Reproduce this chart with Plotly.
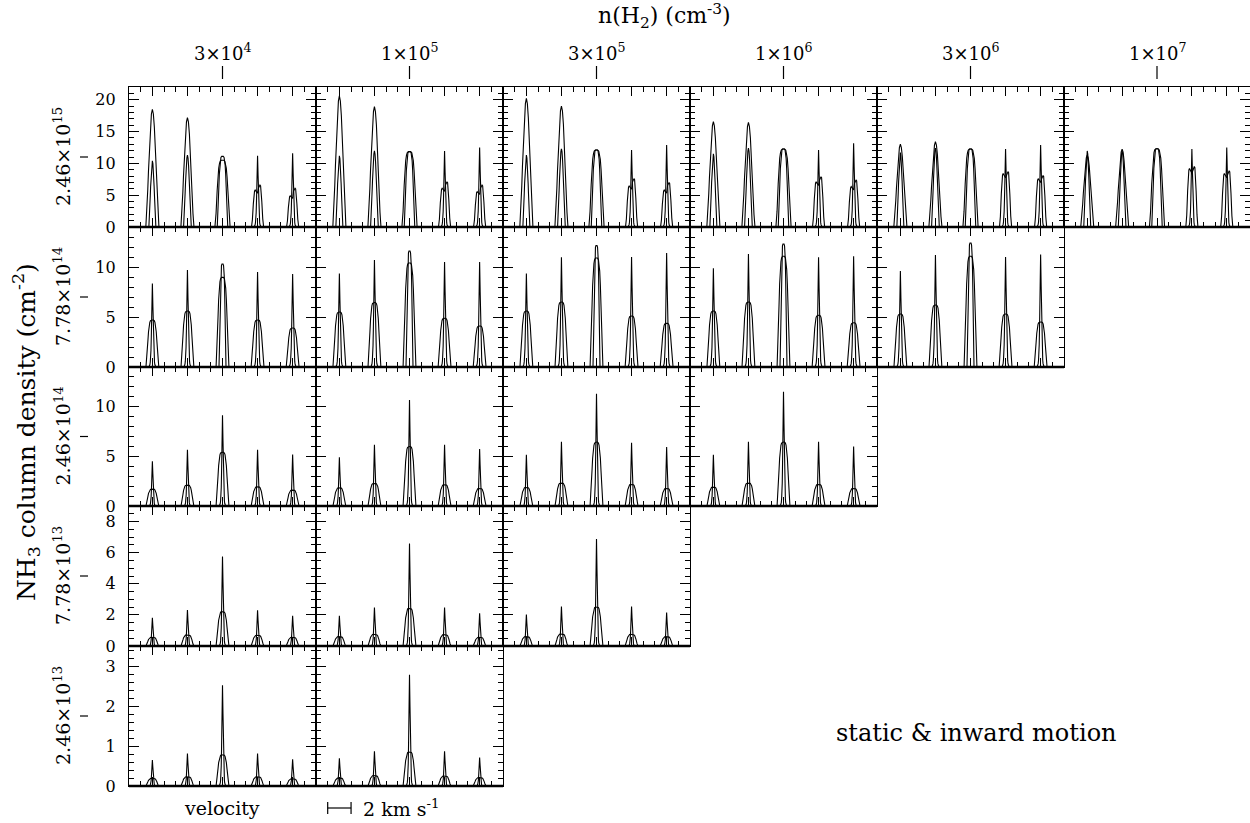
import plotly.graph_objects as go

# ---------------- data ----------------
COL_LABELS = ["3×10<sup>4</sup>", "1×10<sup>5</sup>", "3×10<sup>5</sup>",
              "1×10<sup>6</sup>", "3×10<sup>6</sup>", "1×10<sup>7</sup>"]
ROW_LABELS = ["2.46×10<sup>15</sup>", "7.78×10<sup>14</sup>", "2.46×10<sup>14</sup>",
              "7.78×10<sup>13</sup>", "2.46×10<sup>13</sup>"]
PANELS_PER_ROW = [6, 5, 4, 3, 2]
ROW_YMAX = [22, 14, 14, 9, 3.5]
ROW_DTICK = [5, 5, 5, 2, 1]
ROW_MINOR = [1, 1, 1, 0.5, 0.2]

COMP_V = [-6, -3, 0, 3, 6]          # hyperfine component positions (km/s)

# normalized line-shape templates
U = [-1, -0.85, -0.7, -0.6, -0.5, -0.4, -0.3, -0.15, 0, 0.15, 0.3, 0.4, 0.5, 0.6, 0.7, 0.85, 1]
T_PEAK = [0, 0.01, 0.03, 0.06, 0.11, 0.2, 0.37, 0.72, 1, 0.72, 0.37, 0.2, 0.11, 0.06, 0.03, 0.01, 0]
T_DOME = [0, 0.12, 0.32, 0.47, 0.61, 0.74, 0.85, 0.96, 1, 0.96, 0.85, 0.74, 0.61, 0.47, 0.32, 0.12, 0]
T_FLAT = [0, 0.2, 0.55, 0.75, 0.88, 0.95, 0.985, 1, 1, 1, 0.985, 0.95, 0.88, 0.75, 0.55, 0.2, 0]
T_DOUBLE = [0, 0.2, 0.62, 0.86, 0.97, 1, 0.98, 0.94, 0.92, 0.93, 0.97, 1, 0.98, 0.85, 0.6, 0.2, 0]

# row 0 (2.46e15): outer / inner curves, left shoulder of the double-peaked satellites
R0_OUTER = [[18.5, 17.2, 10.5, 6.6, 6.1],
            [20.6, 18.9, 11.85, 7.1, 6.6],
            [20.2, 19.0, 12.1, 7.6, 7.0],
            [16.55, 16.45, 12.25, 7.9, 7.4],
            [13.0, 13.4, 12.25, 8.7, 8.1],
            [11.3, 12.25, 12.3, 9.5, 8.85]]
R0_LEFT = [[None, None, None, 5.8, 4.9],
           [None, None, None, 6.1, 5.55],
           [None, None, None, 6.45, 5.8],
           [None, None, None, 7.1, 6.35],
           [None, None, None, 8.4, 7.6],
           [None, None, None, 9.2, 8.4]]
R0_INNER = [[10.4, 11.3, 11.1, 11.2, 11.6],
            [11.2, 11.95, 11.85, 11.95, 12.5],
            [11.3, 12.3, 12.1, 12.1, 12.9],
            [11.5, 12.4, 12.25, 12.1, 13.15],
            [11.7, 12.4, 12.25, 12.25, 12.9],
            [11.95, 11.95, 12.3, 12.25, 12.5]]
R0_OUTER_SHAPE = ["dome", "dome", "flat", "double", "double"]
R0_INNER_SHAPE = ["dome", "dome", "flat", "peak", "peak"]
R0_OUTER_HW = [0.56, 0.56, 0.65, 0.52, 0.52]
R0_INNER_HW = [0.3, 0.33, 0.45, 0.3, 0.3]

# rows 1-4: narrow (tall spike) and broad curves
R1_NARROW = [[8.35, 9.7, 10.3, 9.5, 9.3],
             [9.36, 10.7, 11.6, 10.5, 10.5],
             [9.36, 10.97, 12.15, 11.0, 11.4],
             [9.87, 11.3, 12.3, 10.97, 11.07],
             [9.6, 11.2, 12.4, 11.0, 11.24]]
R1_BROAD = [[4.7, 5.6, 8.96, 4.7, 3.9],
            [5.5, 6.45, 10.4, 4.87, 4.1],
            [5.6, 6.5, 10.9, 5.1, 4.36],
            [5.6, 6.5, 11.07, 5.17, 4.43],
            [5.3, 6.2, 11.07, 5.3, 4.5]]
R2_NARROW = [[4.5, 5.66, 9.15, 5.66, 5.19],
             [4.9, 6.17, 10.68, 6.17, 5.73],
             [5.15, 6.47, 11.3, 6.37, 5.93],
             [5.15, 6.47, 11.5, 6.47, 6.0]]
R2_BROAD = [[1.7, 2.1, 5.42, 1.93, 1.6],
            [1.83, 2.27, 6.0, 2.14, 1.76],
            [1.86, 2.3, 6.44, 2.17, 1.76],
            [1.9, 2.3, 6.44, 2.17, 1.76]]
R3_NARROW = [[1.82, 2.32, 5.75, 2.3, 1.95],
             [1.95, 2.47, 6.59, 2.47, 2.1],
             [2.02, 2.53, 6.87, 2.53, 2.15]]
R3_BROAD = [[0.56, 0.71, 2.21, 0.69, 0.56],
            [0.6, 0.75, 2.42, 0.73, 0.56],
            [0.6, 0.77, 2.51, 0.75, 0.6]]
R4_NARROW = [[0.65, 0.81, 2.52, 0.81, 0.67],
             [0.69, 0.87, 2.78, 0.87, 0.71]]
R4_BROAD = [[0.19, 0.23, 0.78, 0.23, 0.18],
            [0.2, 0.26, 0.85, 0.25, 0.21]]

# ---------------- layout constants ----------------
W, H = 1250, 823
COL_EDGES = [129, 316, 503, 690, 877, 1064, 1250]
ROW_EDGES = [87, 227, 367, 506, 646, 786]
FONT = "DejaVu Serif"
TEMPL = {"peak": T_PEAK, "dome": T_DOME, "flat": T_FLAT, "double": T_DOUBLE}


def curve(v0, hw, shape, h, left=None):
    t = TEMPL[shape]
    xs = [v0 + hw * u for u in U]
    if shape == "double":
        ys = [(left if u <= 0 else h) * ti for u, ti in zip(U, t)]
    else:
        ys = [h * ti for ti in t]
    return xs, ys


def panel_curves(r, c):
    specs = []
    if r == 0:
        for k in range(5):
            specs.append((COMP_V[k], R0_OUTER_HW[k], R0_OUTER_SHAPE[k], R0_OUTER[c][k], R0_LEFT[c][k]))
            specs.append((COMP_V[k], R0_INNER_HW[k], R0_INNER_SHAPE[k], R0_INNER[c][k], None))
    else:
        narrow = [None, R1_NARROW, R2_NARROW, R3_NARROW, R4_NARROW][r][c]
        broad = [None, R1_BROAD, R2_BROAD, R3_BROAD, R4_BROAD][r][c]
        for k in range(5):
            nshape = "flat" if (r == 1 and k == 2) else "peak"
            nhw = 0.3 if r == 1 else 0.27
            specs.append((COMP_V[k], nhw, nshape, narrow[k], None))
            specs.append((COMP_V[k], 0.55, "flat", broad[k], None))
    X, Y = [], []
    for s in specs:
        xs, ys = curve(*s)
        X += xs + [None]
        Y += ys + [None]
    return X, Y


fig = go.Figure()
layout = dict(width=W, height=H, margin=dict(l=0, r=0, t=0, b=0, pad=0, autoexpand=False),
              paper_bgcolor="white", plot_bgcolor="rgba(0,0,0,0)",
              showlegend=False, shapes=[], annotations=[])

idx = 0
for r, n in enumerate(PANELS_PER_ROW):
    for c in range(n):
        idx += 1
        sfx = "" if idx == 1 else str(idx)
        X, Y = panel_curves(r, c)
        fig.add_trace(go.Scatter(x=X, y=Y, mode="lines", xaxis="x" + sfx, yaxis="y" + sfx,
                                 line=dict(color="black", width=1.1), hoverinfo="skip"))
        xd = [COL_EDGES[c] / W, COL_EDGES[c + 1] / W]
        yd = [1 - ROW_EDGES[r + 1] / H, 1 - ROW_EDGES[r] / H]
        layout["xaxis" + sfx] = dict(
            domain=xd, range=[-8, 8], anchor="y" + sfx, showgrid=False, zeroline=False,
            automargin=False,
            showline=True, mirror="ticks", linecolor="black", linewidth=1.2,
            ticks="inside", tickmode="linear", tick0=0, dtick=3, ticklen=9,
            tickwidth=1.2, tickcolor="black", showticklabels=False,
            minor=dict(ticks="inside", dtick=1, tick0=0, ticklen=5, tickwidth=1.2, tickcolor="black"))
        layout["yaxis" + sfx] = dict(
            domain=yd, range=[0, ROW_YMAX[r]], anchor="x" + sfx, showgrid=False, zeroline=False,
            automargin=False,
            showline=True, mirror="ticks", linecolor="black", linewidth=1.2,
            ticks="inside", tickmode="linear", tick0=0, dtick=ROW_DTICK[r], ticklen=10,
            tickwidth=1.2, tickcolor="black", showticklabels=(c == 0),
            ticklabelstandoff=9,
            tickfont=dict(family=FONT, size=16, color="black"),
            minor=dict(ticks="inside", dtick=ROW_MINOR[r], tick0=0, ticklen=5, tickwidth=1.2, tickcolor="black"))
    # thick bottom line of the row
    layout["shapes"].append(dict(type="line", xref="paper", yref="paper",
                                 x0=COL_EDGES[0] / W, x1=COL_EDGES[n] / W,
                                 y0=1 - ROW_EDGES[r + 1] / H, y1=1 - ROW_EDGES[r + 1] / H,
                                 line=dict(color="black", width=2.6)))
    # row label with its tick mark
    yc = (ROW_EDGES[r] + ROW_EDGES[r + 1]) / 2
    layout["annotations"].append(dict(x=62 / W, y=1 - yc / H, xref="paper", yref="paper",
                                      text=ROW_LABELS[r], showarrow=False, textangle=-90,
                                      font=dict(family=FONT, size=19, color="black"),
                                      xanchor="center", yanchor="middle"))
    layout["shapes"].append(dict(type="line", xref="paper", yref="paper",
                                 x0=80 / W, x1=88 / W, y0=1 - yc / H, y1=1 - yc / H,
                                 line=dict(color="black", width=1.2)))

for c in range(6):
    xc = (COL_EDGES[c] + COL_EDGES[c + 1]) / 2
    layout["annotations"].append(dict(x=xc / W, y=1 - 52 / H, xref="paper", yref="paper",
                                      text=COL_LABELS[c], showarrow=False,
                                      font=dict(family=FONT, size=18, color="black"),
                                      xanchor="center", yanchor="middle"))
    layout["shapes"].append(dict(type="line", xref="paper", yref="paper",
                                 x0=xc / W, x1=xc / W, y0=1 - 66 / H, y1=1 - 79 / H,
                                 line=dict(color="black", width=1.2)))

# titles and notes
layout["annotations"] += [
    dict(x=664 / W, y=1 - 16 / H, xref="paper", yref="paper", showarrow=False,
         text="n(H<sub>2</sub>) (cm<sup>-3</sup>)", font=dict(family=FONT, size=22, color="black"),
         xanchor="center", yanchor="middle"),
    dict(x=26 / W, y=1 - 432 / H, xref="paper", yref="paper", showarrow=False, textangle=-90,
         text="NH<sub>3</sub> column density (cm<sup>-2</sup>)", font=dict(family=FONT, size=25, color="black"),
         xanchor="center", yanchor="middle"),
    dict(x=222 / W, y=1 - 808 / H, xref="paper", yref="paper", showarrow=False,
         text="velocity", font=dict(family=FONT, size=19, color="black"),
         xanchor="center", yanchor="middle"),
    dict(x=361 / W, y=1 - 808 / H, xref="paper", yref="paper", showarrow=False,
         text="2 km s<sup>-1</sup>", font=dict(family=FONT, size=19, color="black"),
         xanchor="left", yanchor="middle"),
    dict(x=976 / W, y=1 - 733 / H, xref="paper", yref="paper", showarrow=False,
         text="static &amp; inward motion", font=dict(family=FONT, size=24, color="black"),
         xanchor="center", yanchor="middle"),
]

# 2 km/s scale bar drawn in the data units of the bottom-row second panel
bar_axis = "x" + str(sum(PANELS_PER_ROW))
SCALE_BAR = [-7, -5]
for xv in SCALE_BAR:
    layout["shapes"].append(dict(type="line", xref=bar_axis, yref="paper", x0=xv, x1=xv,
                                 y0=1 - 802 / H, y1=1 - 814 / H, line=dict(color="black", width=1.2)))
layout["shapes"].append(dict(type="line", xref=bar_axis, yref="paper", x0=SCALE_BAR[0], x1=SCALE_BAR[1],
                             y0=1 - 808 / H, y1=1 - 808 / H, line=dict(color="black", width=1.2)))

fig.update_layout(**layout)
fig.write_html("out.html")
